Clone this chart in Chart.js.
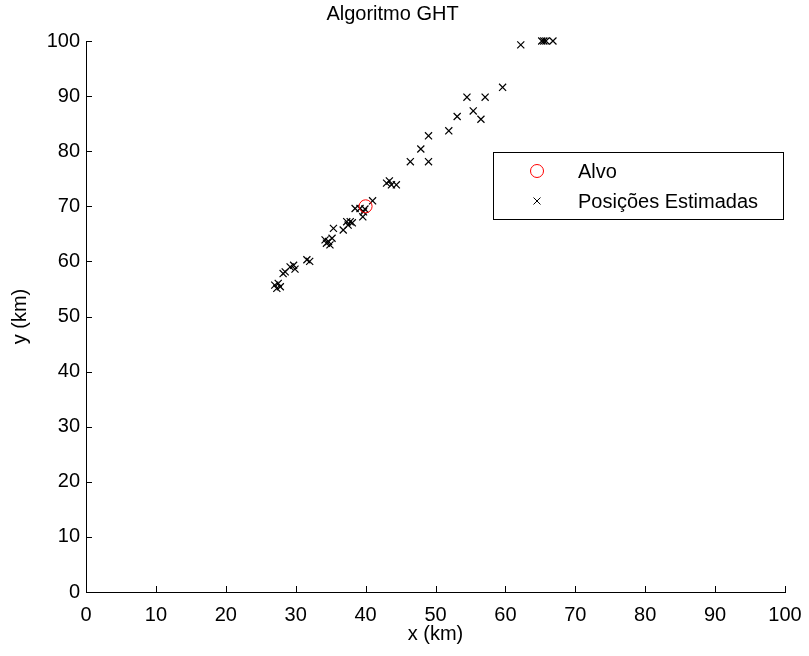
<!DOCTYPE html>
<html>
<head>
<meta charset="utf-8">
<script src="https://cdn.jsdelivr.net/npm/chart.js@4/dist/chart.umd.min.js"></script>
<style>
  html, body { margin: 0; padding: 0; background: #fff; }
  #wrap { width: 809px; height: 656px; }
</style>
</head>
<body>
<div id="wrap"><canvas id="ght"></canvas></div>
<script>
// target position (km)
const alvoX = [40];
const alvoY = [70];

// estimated positions (km)
const estX = [27.0, 27.5, 27.3, 27.8, 28.2, 28.5, 29.2, 29.7, 29.9, 31.6, 32.0,
  34.2, 34.4, 34.7, 34.9, 35.2, 35.4, 36.8, 37.3, 37.5, 37.8, 38.1,
  38.5, 39.2, 39.7, 39.9, 39.6, 41.0, 43.0, 43.4, 43.7, 44.4,
  46.4, 49.0, 47.9, 49.0, 51.9, 53.1, 55.4, 56.5, 54.5, 57.1, 59.6,
  62.2, 65.2, 65.5, 65.8, 66.8];
const estY = [55.7, 56.0, 55.1, 55.4, 57.8, 58.1, 59.0, 59.3, 58.6, 60.3, 60.0,
  63.9, 63.3, 63.6, 63.0, 64.2, 66.0, 65.7, 67.2, 66.6, 67.2, 67.0,
  69.6, 69.6, 69.0, 69.5, 68.1, 71.0, 74.2, 74.6, 73.9, 73.9,
  78.1, 78.1, 80.4, 82.8, 83.7, 86.3, 87.3, 85.8, 89.8, 89.8, 91.6,
  99.3, 100, 100, 100, 100];

const ticks = [0, 10, 20, 30, 40, 50, 60, 70, 80, 90, 100];
const labels = ["Alvo", "Posições Estimadas"];

const FONT = "'Liberation Sans', Arial, Helvetica, sans-serif";

const toPoints = (xs, ys) => xs.map((x, i) => ({ x, y: ys[i] }));

// MATLAB style: ticks pointing into the axes, legend box inside the plot
const matlabBits = {
  id: "matlabBits",
  afterDraw(chart) {
    const { ctx, chartArea, scales } = chart;
    ctx.save();
    ctx.strokeStyle = "#000";
    ctx.lineWidth = 1;
    ctx.beginPath();
    for (const t of ticks) {
      const px = Math.round(scales.x.getPixelForValue(t)) + 0.5;
      ctx.moveTo(px, chartArea.bottom);
      ctx.lineTo(px, chartArea.bottom - 6);
      const py = Math.round(scales.y.getPixelForValue(t)) + 0.5;
      ctx.moveTo(chartArea.left, py);
      ctx.lineTo(chartArea.left + 6, py);
    }
    ctx.stroke();

    // legend
    const lx = chartArea.left + 407, ly = chartArea.top + 111;
    const lw = 290, lh = 67;
    ctx.fillStyle = "#fff";
    ctx.fillRect(lx, ly, lw, lh);
    ctx.strokeRect(lx + 0.5, ly + 0.5, lw, lh);

    const mx = lx + 44;
    const rows = [ly + 19, ly + 49];
    ctx.strokeStyle = "#ff0000";
    ctx.beginPath();
    ctx.arc(mx, rows[0], 6.5, 0, Math.PI * 2);
    ctx.stroke();

    ctx.strokeStyle = "#000";
    ctx.beginPath();
    ctx.moveTo(mx - 3.5, rows[1] - 3.5); ctx.lineTo(mx + 3.5, rows[1] + 3.5);
    ctx.moveTo(mx + 3.5, rows[1] - 3.5); ctx.lineTo(mx - 3.5, rows[1] + 3.5);
    ctx.stroke();

    ctx.fillStyle = "#000";
    ctx.font = "20px " + FONT;
    ctx.textBaseline = "middle";
    ctx.textAlign = "left";
    ctx.fillText(labels[0], lx + 85, rows[0] + 1);
    ctx.fillText(labels[1], lx + 85, rows[1] + 1);
    ctx.restore();
  }
};

new Chart(document.getElementById("ght"), {
  type: "scatter",
  data: {
    datasets: [
      {
        label: labels[0],
        data: toPoints(alvoX, alvoY),
        pointStyle: "circle",
        pointRadius: 6.5,
        pointBorderColor: "#ff0000",
        pointBackgroundColor: "rgba(0,0,0,0)",
        pointBorderWidth: 1,
        clip: false,
      },
      {
        label: labels[1],
        data: toPoints(estX, estY),
        pointStyle: "crossRot",
        pointRadius: 5,
        pointBorderColor: "#000",
        pointBorderWidth: 1.2,
        clip: false,
      },
    ],
  },
  options: {
    responsive: true,
    maintainAspectRatio: false,
    animation: false,
    events: [],
    layout: { padding: { left: 0, right: 24, top: 0, bottom: 0 } },
    plugins: {
      legend: { display: false },
      tooltip: { enabled: false },
      title: {
        display: true,
        text: "Algoritmo GHT",
        color: "#000",
        font: { family: FONT, size: 20, weight: "normal" },
        padding: { top: 2, bottom: 15 },
      },
    },
    scales: {
      x: {
        type: "linear",
        min: 0,
        max: 100,
        afterFit: (s) => { s.height = 64; s.paddingLeft = 0; s.paddingRight = 0; },
        afterBuildTicks: (s) => { s.ticks = ticks.map(v => ({ value: v })); },
        grid: { display: false, drawTicks: false },
        border: { display: true, color: "#000", width: 1 },
        ticks: { color: "#000", padding: 11, maxRotation: 0, font: { family: FONT, size: 20 } },
        title: {
          display: true,
          text: "x (km)",
          color: "#000",
          font: { family: FONT, size: 20 },
          padding: { top: 0, bottom: 10 },
        },
      },
      y: {
        type: "linear",
        min: 0,
        max: 100,
        afterFit: (s) => { s.width = 86; },
        afterBuildTicks: (s) => { s.ticks = ticks.map(v => ({ value: v })); },
        grid: { display: false, drawTicks: false },
        border: { display: true, color: "#000", width: 1 },
        ticks: { color: "#000", padding: 6, font: { family: FONT, size: 20 } },
        title: {
          display: true,
          text: "y (km)",
          color: "#000",
          font: { family: FONT, size: 20 },
          padding: { top: 8, bottom: 0 },
        },
      },
    },
  },
  plugins: [matlabBits],
});
</script>
</body>
</html>
